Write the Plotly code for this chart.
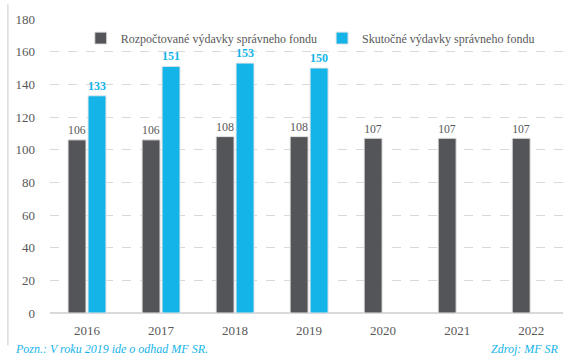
import plotly.graph_objects as go

years = ["2016", "2017", "2018", "2019", "2020", "2021", "2022"]
budgeted = [106, 106, 108, 108, 107, 107, 107]
actual = [133, 151, 153, 150, None, None, None]
y_ticks = [0, 20, 40, 60, 80, 100, 120, 140, 160, 180]

name_budget = "Rozpočtované výdavky správneho fondu"
name_actual = "Skutočné výdavky správneho fondu"

DARK = "#545558"
BLUE = "#14b4e8"
GRAY_TXT = "#595959"
SERIF = "Liberation Serif"

fig = go.Figure()
fig.add_trace(go.Bar(
    x=years, y=budgeted, name=name_budget,
    marker=dict(color=DARK, line=dict(color="#e6e6e6", width=1)),
    text=[str(v) for v in budgeted], textposition="outside",
    textfont=dict(color=GRAY_TXT, size=13, family=SERIF),
    cliponaxis=False,
))
fig.add_trace(go.Bar(
    x=years, y=actual, name=name_actual,
    marker=dict(color=BLUE, line=dict(color="#e6e6e6", width=1)),
    text=[("<b>%d</b>" % v) if v is not None else "" for v in actual],
    textposition="outside",
    textfont=dict(color=BLUE, size=12, family=SERIF),
    cliponaxis=False,
))

fig.update_layout(
    width=563, height=356,
    margin=dict(l=50, r=0, t=19, b=43),
    paper_bgcolor="white", plot_bgcolor="white",
    barmode="group", bargap=0.46, bargroupgap=0.1,
    font=dict(family=SERIF, color=GRAY_TXT, size=13),
    showlegend=True,
    legend=dict(
        orientation="h", x=0.06, y=0.935, xanchor="left", yanchor="middle",
        font=dict(size=12, color=GRAY_TXT, family=SERIF),
        bgcolor="rgba(0,0,0,0)", itemwidth=30, tracegroupgap=0,
    ),
    xaxis=dict(
        type="category", range=[-0.5, 6.43],
        showgrid=False, showline=False, ticks="",
        tickfont=dict(size=13, color=GRAY_TXT, family=SERIF),
        ticklabelstandoff=8,
    ),
    yaxis=dict(
        range=[0, 180], tickvals=y_ticks,
        showgrid=True, gridcolor="#d9d9d9", griddash="dash", gridwidth=1,
        zeroline=True, zerolinecolor="#d9d9d9", zerolinewidth=2,
        showline=False, ticks="",
        tickfont=dict(size=13, color=GRAY_TXT, family=SERIF),
        ticklabelstandoff=14,
    ),
)

# thin frame line on the left edge
fig.add_shape(type="line", xref="paper", yref="paper",
              x0=-0.082, x1=-0.082, y0=-0.11, y1=1.05,
              line=dict(color="#c8c8c8", width=1))

fig.add_annotation(text="<i>Pozn.: V roku 2019 ide o odhad MF SR.</i>",
                   xref="paper", yref="paper", x=-0.072, y=-0.122,
                   xanchor="left", yanchor="middle", showarrow=False,
                   font=dict(size=12, color=BLUE, family=SERIF))
fig.add_annotation(text="<i>Zdroj: MF SR</i>",
                   xref="paper", yref="paper", x=0.997, y=-0.122,
                   xanchor="right", yanchor="middle", showarrow=False,
                   font=dict(size=12, color=BLUE, family=SERIF))

fig.write_html("out.html")
